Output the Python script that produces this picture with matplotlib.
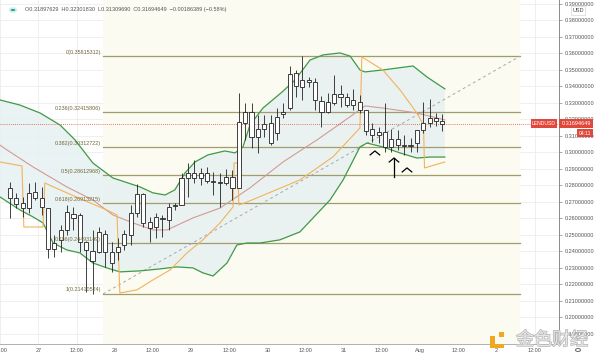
import numpy as np
import matplotlib
matplotlib.use("Agg")
import matplotlib.pyplot as plt
from matplotlib.patches import Rectangle, Circle
import matplotlib.patheffects as pe

# ---------------- data ----------------
# 2h candles, time in hours from Jul 27 00:00
candle_t0 = -9
candle_step = 2
opens = [.2785,.2721,.2691,.2661,.2761,.2721,.2665,.2414,.2469,.2529,.2626,.2620,.2458,.2402,.2398,.2507,.2398,.2398,
         .2438,.2499,.2630,.2745,.2576,.2549,.2600,.2590,.2672,.2681,.2842,.2873,.2842,.2876,.2826,.2822,.2812,.2848,
         .2782,.3179,.3246,.3094,.3139,.3179,.3115,.3230,.3267,.3479,.3394,.3438,.3428,.3313,.3246,.3297,.3351,.3337,
         .3287,.3303,.3256,.3139,.3105,.3125,.3034,.3079,.3044,.3038,.3055,.3135,.3176,.3206,.31897629]
highs = [.2822,.2751,.2731,.2814,.2822,.2792,.2665,.2499,.2559,.2680,.2670,.2632,.2462,.2529,.2547,.2529,.2458,.2478,
         .2529,.2680,.2808,.2755,.2610,.2630,.2620,.2691,.2692,.2873,.2933,.2953,.2903,.2913,.2882,.2873,.2897,.2893,
         .3358,.3300,.3300,.3226,.3226,.3226,.3267,.3297,.3523,.3499,.3581,.3458,.3448,.3341,.3361,.3468,.3408,.3358,
         .3382,.3347,.3256,.3176,.3155,.3297,.3139,.3135,.3105,.3088,.3135,.3307,.3321,.3236,.32301830]
lows = [.2601,.2661,.2610,.2632,.2711,.2620,.2359,.2367,.2398,.2499,.2529,.2398,.2150,.2141,.2388,.2307,.2276,.2347,
        .2408,.2438,.2610,.2549,.2458,.2479,.2489,.2529,.2650,.2681,.2731,.2812,.2802,.2812,.2741,.2670,.2802,.2711,
        .2782,.3075,.3024,.2994,.3094,.3044,.3075,.3206,.3256,.3337,.3317,.3398,.3256,.3155,.3240,.3287,.3276,.3276,
        .3256,.3236,.3105,.3064,.3055,.3004,.3004,.3014,.2984,.3004,.3004,.3115,.3155,.3160,.31309690]
closes = [.2721,.2685,.2661,.2755,.2725,.2670,.2414,.2450,.2529,.2640,.2600,.2458,.2408,.2341,.2517,.2398,.2331,.2424,
          .2507,.2630,.2747,.2570,.2543,.2606,.2594,.2667,.2678,.2842,.2873,.2842,.2873,.2826,.2818,.2812,.2848,.2785,
          .3182,.3246,.3094,.3139,.3170,.3055,.3216,.3242,.3474,.3402,.3438,.3428,.3317,.3246,.3307,.3351,.3337,.3287,
          .3317,.3256,.3131,.3105,.3125,.3034,.3079,.3044,.3038,.3044,.3135,.3176,.3206,.3191,.31694649]

# Bollinger bands
bb_up_t = [-12.1,-5.8,0.5,6.8,11.5,17.1,23.4,27.2,31.9,36.0,39.8,42.9,46.1,49.2,53.3,58.6,61.8,64.3,66.5,70.6,76.6,
           80.7,85.4,89.5,94.8,98.0,101.1,102.7,108.3,117.8,122.2,127.8]
bb_up_p = [.3317,.3286,.3238,.3165,.3075,.2935,.2844,.2820,.2790,.2754,.2741,.2772,.2875,.2941,.2984,.3008,.2996,.3032,
           .3165,.3268,.3365,.3438,.3559,.3590,.3602,.3583,.3499,.3487,.3499,.3523,.3456,.3384]
bb_mid_t = [-12.1,-9.9,-1.7,8.9,17.1,23.4,29.7,36.0,40.4,48.6,57.1,66.5,76.9,87.6,97.9,102.7,108.3,119.0,127.8]
bb_mid_p = [.3043,.3014,.2911,.2790,.2711,.2620,.2572,.2529,.2529,.2602,.2662,.2784,.2941,.3075,.3214,.3281,.3268,.3238,.3196]
bb_lo_t = [-12.1,-5.8,-1.7,1.4,4.6,8.9,13.0,17.1,21.5,25.6,31.9,38.2,43.5,48.6,51.7,54.9,59.3,62.4,65.6,69.7,75.9,82.2,
           91.7,95.8,101.1,103.3,108.3,113.7,119.0,123.1,127.8]
bb_lo_p = [.2729,.2650,.2608,.2572,.2450,.2408,.2390,.2329,.2299,.2275,.2281,.2293,.2305,.2299,.2269,.2250,.2329,.2438,
           .2450,.2450,.2469,.2517,.2711,.2832,.3032,.3056,.3032,.2996,.2965,.2971,.2971]

# Parabolic SAR (orange line)
sar_t = [-12.1,-5.2,-4.6,1.4,2.0,6.8,14.0,21.5,24.7,25.6,31.0,36.0,41.4,46.7,51.7,57.1,61.2,61.5,62.7,63.0,64.9,82.2,
         92.6,101.1,101.7,108.3,113.7,119.0,121.1,121.4,127.8]
sar_p = [.2941,.2917,.2547,.2547,.2814,.2772,.2711,.2650,.2620,.2147,.2166,.2226,.2287,.2390,.2469,.2572,.2669,.2935,
         .2935,.2681,.2693,.2832,.2972,.3147,.3578,.3499,.3378,.3238,.3165,.2905,.2941]

# Fibonacci retracement
fib_ratios = ["0", "0.236", "0.382", "0.5", "0.618", "0.786", "1"]
fib_prices = [0.35815312, 0.32415806, 0.30312722, 0.28612968, 0.26913215, 0.24493149, 0.21410524]
fib_t = [20.3, 151.4]

last_price = 0.31694649
header = "O0.31897629  H0.32301830  L0.31309690  C0.31694649  \u22120.00186389 (\u22120.58%)"

# arrow annotations (t, price)
marks_t = [105.8, 111.8, 115.9]
marks_p = [0.3008, 0.2965, 0.2905]

x_ticks = [-12, 0, 12, 24, 36, 48, 60, 72, 84, 96, 108, 120, 132, 144, 156]
x_labels = ["12:00", "27", "12:00", "28", "12:00", "29", "12:00", "30", "12:00", "31", "12:00", "Aug", "12:00", "2", "12:00"]
y_ticks = [round(0.19 + 0.01 * i, 2) for i in range(21)]

# ---------------- plot ----------------
plt.rcParams['font.family'] = ['Liberation Sans', 'DejaVu Sans']
W, H = 600, 356
fig = plt.figure(figsize=(6, 3.56), dpi=100)
ax = fig.add_axes([0, 12 / H, 559 / W, 344 / H])
ax.set_xlim(-12.1, 163.7)
ax.set_ylim(0.18378, 0.39229)

# grid
for yv in y_ticks:
    ax.axhline(yv, color='#ececec', lw=0.6, zorder=0)
for xv in x_ticks:
    ax.axvline(xv, color='#ececec', lw=0.6, zorder=0)

# fib background
ax.add_patch(Rectangle((fib_t[0], 0.1), fib_t[1] - fib_t[0], 0.4, facecolor='#fbfbf1', edgecolor='none', zorder=0.5))

# BB fill
poly_t = bb_up_t + bb_lo_t[::-1]
poly_p = bb_up_p + bb_lo_p[::-1]
ax.fill(poly_t, poly_p, color='#e7f1f2', alpha=0.85, lw=0, zorder=1)

# fib levels
for r, p in zip(fib_ratios, fib_prices):
    ax.plot(fib_t, [p, p], color='#a19c6c', lw=0.9, zorder=2)
    ax.text(fib_t[0] - 0.6, p + 0.0009, f"{r}({p:.8f})", fontsize=3.9, color='#6e6733', ha='right', va='bottom', zorder=6)
ax.plot(fib_t, [fib_prices[-1], fib_prices[0]], color='#a8a8a8', lw=0.7, ls=(0, (3, 3)), zorder=2)

# BB lines
ax.plot(bb_up_t, bb_up_p, color='#3f9a45', lw=0.9, zorder=3)
ax.plot(bb_lo_t, bb_lo_p, color='#3f9a45', lw=0.9, zorder=3)
ax.plot(bb_mid_t, bb_mid_p, color='#d49a94', lw=0.8, zorder=3)
ax.plot(sar_t, sar_p, color='#f2b35a', lw=0.8, zorder=3)

# current price line
ax.axhline(last_price, color='#e0483c', lw=0.6, ls=(0, (1, 1.5)), zorder=3)

# candles
tt = [candle_t0 + candle_step * i for i in range(len(opens))]
bw = 1.3
for t, o, h, l, c in zip(tt, opens, highs, lows, closes):
    ax.vlines(t, l, h, color='#222222', lw=0.6, zorder=4)
    ax.add_patch(Rectangle((t - bw / 2, min(o, c)), bw, abs(c - o), facecolor='white', edgecolor='#222222', lw=0.6, zorder=5))

# arrow marks
for i, (t, p) in enumerate(zip(marks_t, marks_p)):
    ax.plot([t - 1.5, t, t + 1.5], [p - 0.0024, p, p - 0.0024], color='black', lw=0.9, zorder=6)
    if i == 1:
        ax.plot([t, t], [p, p - 0.0115], color='black', lw=0.9, zorder=6)

# axes styling
ax.set_xticks(x_ticks)
ax.set_xticklabels(x_labels)
ax.set_yticks(y_ticks)
ax.set_yticklabels([f"{v:.8f}" for v in y_ticks])
ax.yaxis.tick_right()
ax.tick_params(axis='y', length=2, width=0.5, color='#888888', labelsize=4, labelcolor='#555555', pad=2)
ax.tick_params(axis='x', length=0, labelsize=4, labelcolor='#555555', pad=3)
for s in ['top', 'left']:
    ax.spines[s].set_visible(False)
ax.spines['right'].set_color('#8a8a8a')
ax.spines['bottom'].set_color('#b0b0b0')
ax.spines['right'].set_linewidth(0.7)
ax.spines['bottom'].set_linewidth(0.7)

def fx(x):
    return x / W
def fy(y):
    return 1 - y / H

# header
fig.patches.append(Circle((fx(13), fy(10)), 3.2 / W, transform=fig.transFigure, facecolor='#26a69a', edgecolor='#cfeeea', lw=1.2))
fig.text(fx(25), fy(10), header, fontsize=4, color='#555555', va='center', ha='left')

# USD label
fig.text(fx(578), fy(10.5), "USD", fontsize=4, color='#444444', ha='center', va='center',
         bbox=dict(boxstyle='square,pad=0.3', fc='white', ec='#cccccc', lw=0.4))

# price labels
red = '#e0483c'
fig.patches.append(Rectangle((fx(531), fy(128)), 26 / W, 9 / H, transform=fig.transFigure, facecolor=red, edgecolor='none'))
fig.text(fx(544), fy(123.5), "LENDUSD", fontsize=3.7, color='white', ha='center', va='center')
fig.patches.append(Rectangle((fx(559), fy(128)), 34 / W, 9 / H, transform=fig.transFigure, facecolor=red, edgecolor='none'))
fig.text(fx(576), fy(123.5), f"{last_price:.8f}", fontsize=4, color='white', ha='center', va='center')
fig.patches.append(Rectangle((fx(577), fy(137)), 16 / W, 8 / H, transform=fig.transFigure, facecolor=red, edgecolor='none'))
fig.text(fx(585), fy(133), "04:11", fontsize=3.7, color='white', ha='center', va='center')

# gear icon
fig.patches.append(Circle((fx(578), fy(350)), 2.5 / W, transform=fig.transFigure, facecolor='white', edgecolor='#666666', lw=0.7))

# watermark
fig.patches.append(Rectangle((fx(490), fy(348)), 5 / W, 12 / H, transform=fig.transFigure, facecolor='#f0a81c', edgecolor='none'))
fig.patches.append(Rectangle((fx(490), fy(348)), 14 / W, 4 / H, transform=fig.transFigure, facecolor='#f0a81c', edgecolor='none'))
fig.patches.append(Rectangle((fx(499), fy(337)), 5 / W, 5 / H, transform=fig.transFigure, facecolor='#f0a81c', edgecolor='none'))
fig.text(fx(552), fy(340), "金色财经", fontsize=13, family=['Noto Sans CJK SC'], color='#e6e6e6', ha='center', va='center',
         path_effects=[pe.withStroke(linewidth=1.0, foreground='#b5b5b5')])

fig.savefig("out.png", dpi=100)
